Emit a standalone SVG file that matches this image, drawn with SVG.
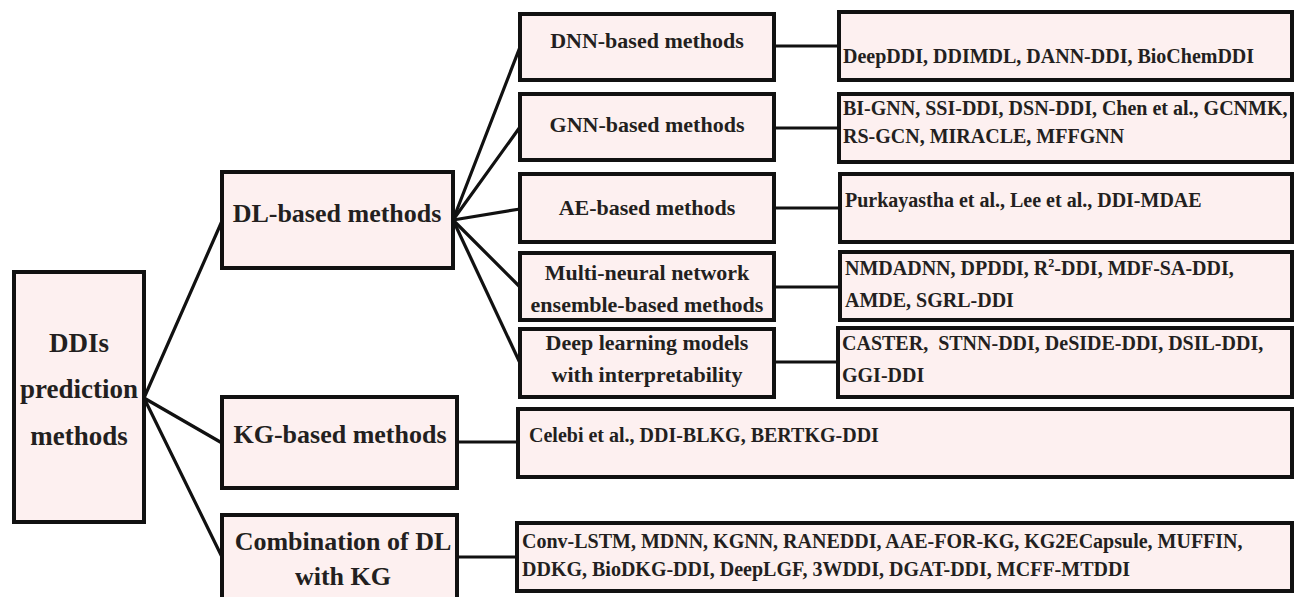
<svg xmlns="http://www.w3.org/2000/svg" width="1295" height="597" viewBox="0 0 1295 597" font-family="'Liberation Serif', 'DejaVu Serif', serif">
  <style>
    .box { fill: #fdf0f0; stroke: #111; stroke-width: 4; }
    .edge { stroke: #111; stroke-width: 3.2; fill: none; stroke-linecap: round; }
    text { font-family: 'Liberation Serif', 'DejaVu Serif', serif; font-weight: 700; fill: #231f20; }
    .root { font-size: 27px; text-anchor: middle; }
    .l1 { font-size: 26px; text-anchor: middle; }
    .l2 { font-size: 22px; text-anchor: middle; }
    .leaf { font-size: 20px; }
  </style>
  <rect width="1295" height="597" fill="#ffffff"/>

  <!-- connectors -->
  <g id="connectors">
    <line class="edge" x1="144" y1="398" x2="222" y2="221"/>
    <line class="edge" x1="144" y1="398" x2="222" y2="443"/>
    <line class="edge" x1="144" y1="398" x2="222" y2="557"/>
    <line class="edge" x1="453" y1="220" x2="520" y2="47"/>
    <line class="edge" x1="453" y1="220" x2="520" y2="127"/>
    <line class="edge" x1="453" y1="220" x2="520" y2="209"/>
    <line class="edge" x1="453" y1="220" x2="520" y2="287"/>
    <line class="edge" x1="453" y1="220" x2="520" y2="363"/>
    <line class="edge" x1="774" y1="46" x2="839" y2="46"/>
    <line class="edge" x1="774" y1="128" x2="839" y2="128"/>
    <line class="edge" x1="774" y1="208" x2="840" y2="208"/>
    <line class="edge" x1="774" y1="287" x2="840" y2="287"/>
    <line class="edge" x1="774" y1="362" x2="838" y2="362"/>
    <line class="edge" x1="457" y1="442" x2="518" y2="442"/>
    <line class="edge" x1="457" y1="557" x2="517" y2="557"/>
  </g>

  <!-- root -->
  <g id="root">
    <rect class="box" x="14" y="272" width="130" height="250"/>
    <text class="root" x="79" y="352">DDIs</text>
    <text class="root" x="79" y="398">prediction</text>
    <text class="root" x="79" y="445">methods</text>
  </g>

  <!-- first level -->
  <g id="dl">
    <rect class="box" x="222" y="172" width="231" height="96"/>
    <text class="l1" x="337" y="222">DL-based methods</text>
  </g>
  <g id="kg">
    <rect class="box" x="222" y="397" width="235" height="91"/>
    <text class="l1" x="340" y="443">KG-based methods</text>
  </g>
  <g id="dlkg">
    <rect class="box" x="222" y="515" width="235" height="95"/>
    <text class="l1" x="343" y="550">Combination of DL</text>
    <text class="l1" x="343" y="585">with KG</text>
  </g>

  <!-- DL sub-categories -->
  <g id="dnn">
    <rect class="box" x="520" y="14" width="254" height="66"/>
    <text class="l2" x="647" y="48">DNN-based methods</text>
  </g>
  <g id="gnn">
    <rect class="box" x="520" y="94" width="254" height="66"/>
    <text class="l2" x="647" y="132">GNN-based methods</text>
  </g>
  <g id="ae">
    <rect class="box" x="520" y="174" width="254" height="68"/>
    <text class="l2" x="647" y="215">AE-based methods</text>
  </g>
  <g id="ensemble">
    <rect class="box" x="520" y="253" width="254" height="67"/>
    <text class="l2" x="647" y="280">Multi-neural network</text>
    <text class="l2" x="647" y="312">ensemble-based methods</text>
  </g>
  <g id="interpretable">
    <rect class="box" x="520" y="329" width="254" height="68"/>
    <text class="l2" x="647" y="350">Deep learning models</text>
    <text class="l2" x="647" y="382">with interpretability</text>
  </g>

  <!-- method lists -->
  <g id="dnn-list">
    <rect class="box" x="839" y="12" width="453" height="68"/>
    <text class="leaf" x="843" y="63">DeepDDI, DDIMDL, DANN-DDI, BioChemDDI</text>
  </g>
  <g id="gnn-list">
    <rect class="box" x="839" y="94" width="453" height="68"/>
    <text class="leaf" x="843" y="115">BI-GNN, SSI-DDI, DSN-DDI, Chen et al., GCNMK,</text>
    <text class="leaf" x="843" y="143">RS-GCN, MIRACLE, MFFGNN</text>
  </g>
  <g id="ae-list">
    <rect class="box" x="840" y="174" width="452" height="68"/>
    <text class="leaf" x="845" y="207">Purkayastha et al., Lee et al., DDI-MDAE</text>
  </g>
  <g id="ensemble-list">
    <rect class="box" x="840" y="252" width="452" height="68"/>
    <text class="leaf" x="845" y="275">NMDADNN, DPDDI, R<tspan font-size="12" dy="-8">2</tspan><tspan dy="8">-DDI, MDF-SA-DDI,</tspan></text>
    <text class="leaf" x="845" y="307">AMDE, SGRL-DDI</text>
  </g>
  <g id="interpretable-list">
    <rect class="box" x="838" y="328" width="454" height="69"/>
    <text class="leaf" x="842" y="350" xml:space="preserve">CASTER,  STNN-DDI, DeSIDE-DDI, DSIL-DDI,</text>
    <text class="leaf" x="842" y="382">GGI-DDI</text>
  </g>
  <g id="kg-list">
    <rect class="box" x="518" y="409" width="774" height="68"/>
    <text class="leaf" x="529" y="442">Celebi et al., DDI-BLKG, BERTKG-DDI</text>
  </g>
  <g id="dlkg-list">
    <rect class="box" x="517" y="523" width="775" height="68"/>
    <text class="leaf" x="522" y="548">Conv-LSTM, MDNN, KGNN, RANEDDI, AAE-FOR-KG, KG2ECapsule, MUFFIN,</text>
    <text class="leaf" x="522" y="576">DDKG, BioDKG-DDI, DeepLGF, 3WDDI, DGAT-DDI, MCFF-MTDDI</text>
  </g>
</svg>
